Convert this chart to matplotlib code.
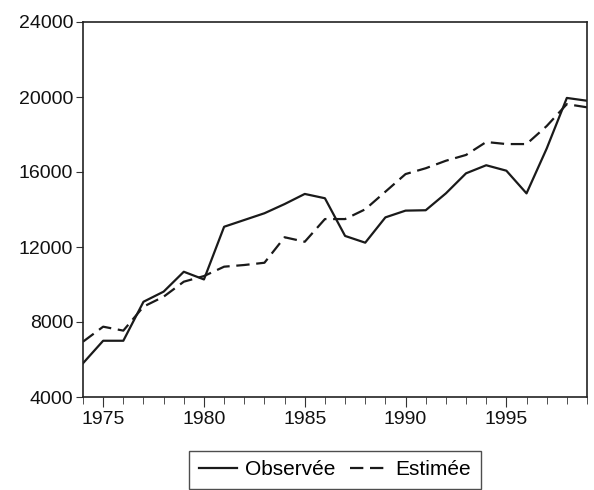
import matplotlib
matplotlib.use("Agg")
import matplotlib.pyplot as plt
from matplotlib.ticker import MultipleLocator

years = list(range(1974, 2000))
observee = [5800, 7000, 7000, 9080, 9620, 10680, 10270, 13080, 13440, 13800,
            14290, 14830, 14600, 12590, 12230, 13580, 13940, 13960, 14860, 15930,
            16360, 16070, 14860, 17250, 19950, 19800]
estimee = [6950, 7750, 7540, 8820, 9350, 10150, 10450, 10950, 11040, 11160,
           12520, 12280, 13490, 13490, 14010, 14950, 15890, 16200, 16600, 16910,
           17600, 17490, 17490, 18450, 19620, 19450]
yticks = [4000, 8000, 12000, 16000, 20000, 24000]
xticks = [1975, 1980, 1985, 1990, 1995]

plt.rcParams['font.family'] = ['Liberation Sans', 'DejaVu Sans']

fig = plt.figure(figsize=(5.94, 4.90), dpi=100)
ax = fig.add_axes([83/594, 1-397/490, (587-83)/594, (397-22)/490])

ax.plot(years, observee, color='#1a1a1a', lw=1.6, label='Observée')
ax.plot(years, estimee, color='#1a1a1a', lw=1.6, dashes=(6, 3), label='Estimée')

ax.set_xlim(1974, 1999)
ax.set_ylim(4000, 24000)
ax.set_yticks(yticks)
ax.set_yticklabels([str(v) for v in yticks])
ax.set_xticks(xticks)
ax.set_xticklabels([str(v) for v in xticks])
ax.xaxis.set_minor_locator(MultipleLocator(1))
ax.tick_params(axis='both', which='major', labelsize=14, direction='out', length=5,
               pad=2, color='#333333', labelcolor='#111111')
ax.tick_params(axis='x', which='minor', direction='out', length=5, color='#333333')
ax.tick_params(axis='x', which='major', length=7, pad=3)
for s in ax.spines.values():
    s.set_color('#222222')
    s.set_linewidth(1.2)

leg = fig.legend(loc='upper center', bbox_to_anchor=(335/594, 1-451/490), ncol=2, fontsize=15,
                 frameon=True, fancybox=False, edgecolor='#222222', handlelength=1.85,
                 columnspacing=0.7, handletextpad=0.35, borderpad=0.45, borderaxespad=0)
leg.get_frame().set_linewidth(1.0)

fig.savefig('out.png', dpi=100)
